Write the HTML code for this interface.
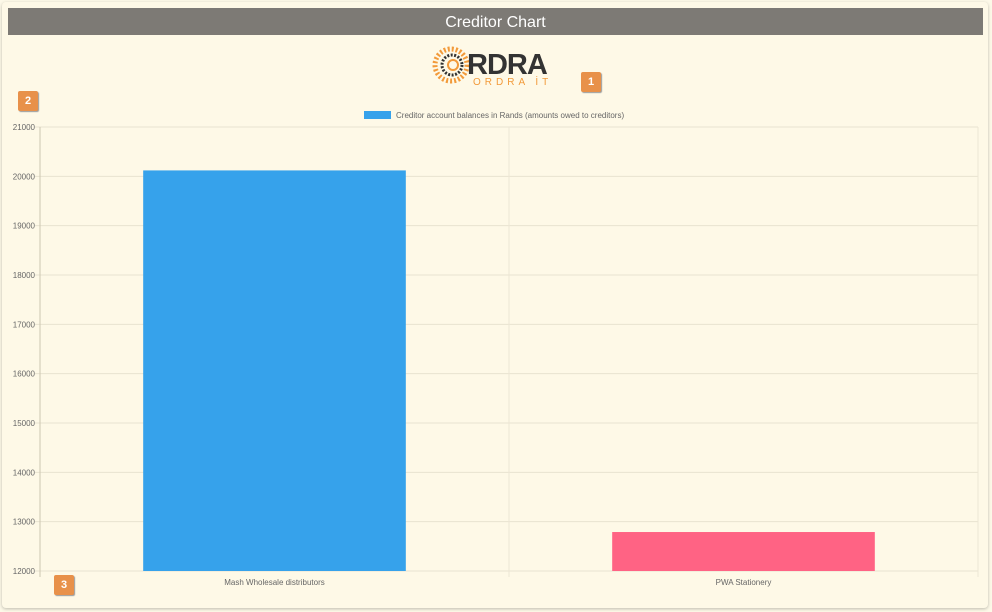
<!DOCTYPE html>
<html><head><meta charset="utf-8"><style>
body{margin:0;width:992px;height:612px;background:#fdf9e8;font-family:"Liberation Sans",sans-serif;overflow:hidden;position:relative}
.card{position:absolute;left:2px;top:2px;width:986px;height:606px;background:#fef9e7;border-radius:4px;box-shadow:0 1px 3px rgba(0,0,0,.25)}
.title{position:absolute;left:8px;top:8px;width:975px;height:27px;background:#7d7a75;color:#fff;font-size:16px;line-height:29px;text-align:center}
.badge{position:absolute;width:20px;height:20px;background:#e8914a;color:#fff;font-size:11px;font-weight:bold;text-align:center;line-height:20px;border-radius:2px;box-shadow:1px 1px 1px #999}
</style></head><body>
<div class="card"></div>
<div class="title">Creditor Chart</div>
<svg style="position:absolute;left:430px;top:44px" width="130" height="44">
<circle cx="21" cy="21" r="16" fill="none" stroke="#f29a3a" stroke-width="5" stroke-dasharray="2 2"/>
<circle cx="22" cy="21" r="10" fill="none" stroke="#333" stroke-width="3" stroke-dasharray="2 1.5"/>
<circle cx="23" cy="21" r="5" fill="none" stroke="#f29a3a" stroke-width="2"/>
<text x="37" y="30" font-size="29" font-weight="bold" fill="#333" font-family="Liberation Sans" letter-spacing="-1">RDRA</text>
<text x="43" y="41" font-size="10" fill="#f29a3a" letter-spacing="4" font-family="Liberation Sans">ORDRA İT</text>
</svg>
<div class="badge" style="left:581px;top:72px">1</div>
<div class="badge" style="left:18px;top:91px">2</div>
<div class="badge" style="left:54px;top:575px">3</div>
<svg id="chart" width="992" height="612" style="position:absolute;left:0;top:0"></svg>
<script>
const categories=["Mash Wholesale distributors","PWA Stationery"];
const values=[20120,12790];
const colors=["#36a2eb","#ff6384"];
const ticks=[12000,13000,14000,15000,16000,17000,18000,19000,20000,21000];
const legendLabel="Creditor account balances in Rands (amounts owed to creditors)";
const NS="http://www.w3.org/2000/svg";
const svg=document.getElementById("chart");
const L=40,R=978,T=127,B=571,ymin=12000,ymax=21000;
const y=v=>B-(v-ymin)/(ymax-ymin)*(B-T);
const cw=(R-L)/categories.length;
const x=i=>L+i*cw;
function mk(t,a){const e=document.createElementNS(NS,t);for(const k in a)e.setAttribute(k,a[k]);svg.appendChild(e);return e;}
ticks.forEach(t=>{
 const g=mk("line",{x1:L-5,x2:R,y1:y(t),y2:y(t),stroke:"#e8e3d0","stroke-width":1});
 
 
 const tx=mk("text",{x:L-5,y:y(t)+3,"text-anchor":"end","font-size":8,fill:"#666"});
 tx.textContent=t;
 
 
});
for(let i=0;i<=categories.length;i++){
 const v=mk("line",{x1:x(i),x2:x(i),y1:T,y2:B+6,stroke:i==0?"#ccc6b0":"#ece7d5","stroke-width":1});
 
 
}
categories.forEach((c,i)=>{
 const bw=cw*0.56;
 const r=mk("rect",{x:x(i)+(cw-bw)/2,y:y(values[i]),width:bw,height:B-y(values[i]),fill:colors[i]});
 
 
 const tx=mk("text",{x:x(i)+cw/2,y:B+14,"text-anchor":"middle","font-size":8,fill:"#666"});
 tx.textContent=c;
 
 
});
const lb=mk("rect",{x:364,y:111,width:27,height:8,fill:"#36a2eb"});


const lt=mk("text",{x:396,y:118,"font-size":8,fill:"#666"});
lt.textContent=legendLabel;


</script>
</body></html>
